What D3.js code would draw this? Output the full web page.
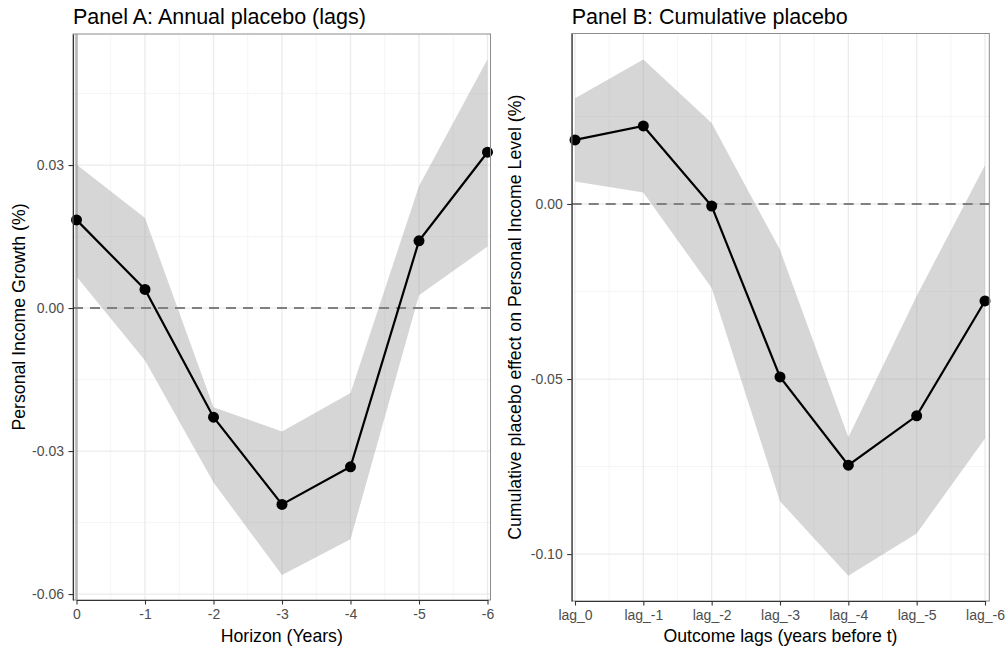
<!DOCTYPE html>
<html>
<head>
<meta charset="utf-8">
<script src="https://cdn.jsdelivr.net/npm/d3@7"></script>
<style>
  body { margin: 0; background: #fff; }
  svg { font-family: "Liberation Sans", Arial, sans-serif; }
</style>
</head>
<body>
<svg id="chart" width="1008" height="649"></svg>
<script>
// Panel A: annual placebo (lags)
var horizonA = [0, -1, -2, -3, -4, -5, -6]
var estA   = [0.0185, 0.0039, -0.0229, -0.0412, -0.0333, 0.0141, 0.0327]
var upperA = [0.0301, 0.0189, -0.0208, -0.0259, -0.0178, 0.0256, 0.0522]
var lowerA = [0.0066, -0.0110, -0.0366, -0.0560, -0.0485, 0.0027, 0.0129]
var yTicksA = [0.03, 0, -0.03, -0.06]

// Panel B: cumulative placebo
var lagsB = ["lag_0", "lag_-1", "lag_-2", "lag_-3", "lag_-4", "lag_-5", "lag_-6"]
var estB   = [0.0183, 0.0223, -0.0006, -0.0494, -0.0746, -0.0605, -0.0277]
var upperB = [0.0302, 0.0413, 0.0231, -0.0131, -0.0666, -0.0263, 0.0111]
var lowerB = [0.0064, 0.0033, -0.0240, -0.0849, -0.1062, -0.0941, -0.0670]
var yTicksB = [0, -0.05, -0.10]

var svg = d3.select("#chart")

function drawPanel(opt) {
    var g = svg.append("g")
    var y = opt.y
    var left = opt.left, right = opt.right, top = opt.top, bottom = opt.bottom

    // minor grid (half way between the majors)
    var xs = opt.xPos
    var xMinor = []
    for (var i = 0; i < xs.length - 1; i++) xMinor.push((xs[i] + xs[i + 1]) / 2)
    var yMinor = []
    for (var j = 0; j < opt.yTicks.length - 1; j++) yMinor.push((y(opt.yTicks[j]) + y(opt.yTicks[j + 1])) / 2)
    yMinor.push(y(opt.yTicks[0]) - (y(opt.yTicks[1]) - y(opt.yTicks[0])) / 2)

    g.selectAll(".minx").data(xMinor).enter().append("line")
        .attr("x1", d => d).attr("x2", d => d).attr("y1", top).attr("y2", bottom)
        .attr("stroke", "#f2f2f2").attr("stroke-width", 0.8)
    g.selectAll(".miny").data(yMinor.filter(d => d > top && d < bottom)).enter().append("line")
        .attr("x1", left).attr("x2", right).attr("y1", d => d).attr("y2", d => d)
        .attr("stroke", "#f2f2f2").attr("stroke-width", 0.8)

    // major grid
    g.selectAll(".majx").data(xs).enter().append("line")
        .attr("x1", d => d).attr("x2", d => d).attr("y1", top).attr("y2", bottom)
        .attr("stroke", "#ebebeb").attr("stroke-width", 1.3)
    g.selectAll(".majy").data(opt.yTicks).enter().append("line")
        .attr("x1", left).attr("x2", right).attr("y1", d => y(d)).attr("y2", d => y(d))
        .attr("stroke", "#ebebeb").attr("stroke-width", 1.3)

    if (opt.vline) {
        g.append("line")
            .attr("x1", xs[0]).attr("x2", xs[0]).attr("y1", top).attr("y2", bottom)
            .attr("stroke", "#b5b5b5").attr("stroke-width", 2.5)
    }

    // ribbon
    var area = d3.area()
        .x((d, i) => xs[i])
        .y0((d, i) => y(opt.lower[i]))
        .y1((d, i) => y(opt.upper[i]))
    g.append("path").datum(opt.est)
        .attr("d", area)
        .attr("fill", "#999").attr("fill-opacity", 0.4)

    // zero line
    g.append("line")
        .attr("x1", left).attr("x2", right).attr("y1", y(0)).attr("y2", y(0))
        .attr("stroke", "#808080").attr("stroke-width", 2)
        .attr("stroke-dasharray", "10,7")

    // estimate line + points
    var line = d3.line()
        .x((d, i) => xs[i])
        .y(d => y(d))
    g.append("path").datum(opt.est)
        .attr("d", line)
        .attr("fill", "none").attr("stroke", "#000").attr("stroke-width", 2.2)
    g.selectAll(".pt").data(opt.est).enter().append("circle")
        .attr("cx", (d, i) => xs[i]).attr("cy", d => y(d)).attr("r", 5.5)
        .attr("fill", "#000")

    // panel border
    g.append("rect")
        .attr("x", left).attr("y", top).attr("width", right - left).attr("height", bottom - top)
        .attr("fill", "none").attr("stroke", "#8c8c8c").attr("stroke-width", 1)

    // axes
    var yAxis = g.append("g")
        .attr("transform", "translate(" + left + ",0)")
        .call(d3.axisLeft(y).tickValues(opt.yTicks).tickSize(4.5).tickSizeOuter(0).tickPadding(4.5)
            .tickFormat(d => d3.format(".2f")(d).replace("\u2212", "-")))
    var xAxis = g.append("g")
        .attr("transform", "translate(0," + bottom + ")")
        .call(opt.xAxis.tickSize(4.5).tickSizeOuter(0).tickPadding(5))
    ;[xAxis, yAxis].forEach(function(a) {
        a.select(".domain").attr("stroke", "#333").attr("stroke-width", 1.1)
        a.selectAll(".tick line").attr("stroke", "#333").attr("stroke-width", 1.1)
        a.selectAll(".tick text").attr("fill", "#4d4d4d").style("font-size", "14px")
            .style("font-family", "Liberation Sans, Arial, sans-serif")
    })

    // titles
    g.append("text")
        .attr("x", left).attr("y", 24)
        .style("font-size", "21.5px").attr("fill", "#000")
        .text(opt.title)
    g.append("text")
        .attr("x", (left + right) / 2).attr("y", 642)
        .attr("text-anchor", "middle")
        .style("font-size", "17.7px").attr("fill", "#000")
        .text(opt.xTitle)
    g.append("text")
        .attr("transform", "translate(" + opt.yTitleX + "," + (top + bottom) / 2 + ") rotate(-90)")
        .attr("text-anchor", "middle")
        .style("font-size", "17.7px").attr("fill", "#000")
        .text(opt.yTitle)
}

// Panel A
var xA = d3.scaleLinear().domain([0, -6]).range([76.5, 487.5])
var yA = d3.scaleLinear().domain([-0.06125, 0.0575]).range([600, 34])
drawPanel({
    y: yA,
    left: 73, right: 490.5, top: 34, bottom: 600,
    xPos: horizonA.map(d => xA(d)),
    yTicks: yTicksA,
    est: estA, upper: upperA, lower: lowerA,
    vline: true,
    xAxis: d3.axisBottom(xA).tickValues(horizonA).tickFormat(d => String(d)),
    title: "Panel A: Annual placebo (lags)",
    xTitle: "Horizon (Years)",
    yTitle: "Personal Income Growth (%)",
    yTitleX: 25
})

// Panel B
var xB = d3.scalePoint().domain(lagsB).range([575, 985])
var yB = d3.scaleLinear().domain([-0.1134, 0.0487]).range([601, 33.5])
drawPanel({
    y: yB,
    left: 571.7, right: 989.3, top: 33.5, bottom: 601,
    xPos: lagsB.map(d => xB(d)),
    yTicks: yTicksB,
    est: estB, upper: upperB, lower: lowerB,
    vline: false,
    xAxis: d3.axisBottom(xB),
    title: "Panel B: Cumulative placebo",
    xTitle: "Outcome lags (years before t)",
    yTitle: "Cumulative placebo effect on Personal Income Level (%)",
    yTitleX: 521
})
</script>
</body>
</html>
